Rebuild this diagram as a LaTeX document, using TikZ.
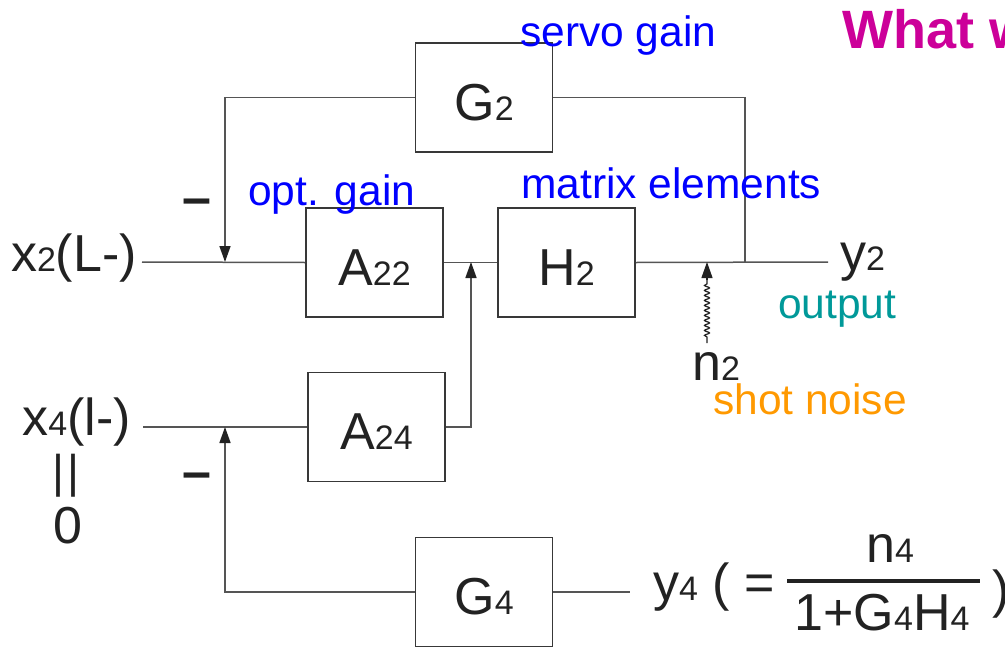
\documentclass[tikz,border=0pt]{standalone}
\usepackage{fontspec}
\setmainfont{Liberation Sans}
\usetikzlibrary{arrows.meta,decorations.pathmorphing}
\definecolor{ink}{HTML}{222222}
\definecolor{wirecol}{HTML}{555555}
\definecolor{notecol}{HTML}{0000FF}
\definecolor{outcol}{HTML}{009999}
\definecolor{noisecol}{HTML}{FF9900}
\definecolor{titlecol}{HTML}{CC0099}
\newcommand\ix[1]{{\fontsize{34}{34}\selectfont#1}}

\begin{document}
\begin{tikzpicture}[x=1pt,y=-1pt,font=\fontsize{52}{52}\selectfont, every node/.style={text=ink,inner sep=0pt}]
  \useasboundingbox (0,0) rectangle (1005,648);
  \tikzset{block/.style={draw=ink!90,line width=1.8pt,minimum width=137pt,minimum height=109pt,text height=45pt,text depth=0pt},
    wire/.style={draw=wirecol,line width=1.5pt},
    feed/.style={wire,-{Triangle[length=16pt,width=11pt,color=ink]}},
    note/.style={font=\fontsize{42.5}{42.5}\selectfont,text=notecol,anchor=base west}}

  % Blocks of the two loops.
  \node[block] (G2) at (484,97.5) {G\ix2};
  \node[block] (A22) at (374.5,262.5) {A\ix{22}};
  \node[block] (H2) at (566.5,262.5) {H\ix2};
  \node[block] (A24) at (376.5,427) {A\ix{24}};
  \node[block] (G4) at (484,592) {G\ix4};

  % Junctions and free ends of the wires.
  \coordinate (x2in) at (142,262);
  \coordinate (fb2) at (225,262);
  \coordinate (sum2) at (471,262);
  \coordinate (n2in) at (707,262);
  \coordinate (tap2) at (745,262);
  \coordinate (y2end) at (828,262);
  \coordinate (x4in) at (143,427);
  \coordinate (fb4) at (225,427);
  \coordinate (y4end) at (630,592);
  \coordinate (n2mid) at (707,280);
  \coordinate (n2tail) at (707,343);

  % Signal path of x2.
  \draw[wire] (x2in) -- (A22.west);
  \draw[wire] (A22.east) -- (H2.west);
  \draw[wire] (H2.east) -- (y2end);
  \draw[wire] (tap2) |- (G2.east);
  \draw[feed] (G2.west) -| (fb2);
  \draw[feed] (A24.east) -| (sum2);

  % Signal path of x4.
  \draw[wire] (x4in) -- (A24.west);
  \draw[feed] (G4.west) -| (fb4);
  \draw[wire] (G4.east) -- (y4end);

  % Shot noise enters after H2.
  \draw[ink,line width=1.2pt,decorate,decoration={snake,amplitude=2.5pt,segment length=5pt,pre length=6pt,post length=2pt}] (n2tail) -- (n2mid);
  \draw[ink,line width=1.2pt,-{Triangle[length=16pt,width=11pt]}] (n2mid) -- (n2in);

  % Signal labels.
  \node[anchor=base east] (x2) at (137,271) {x\ix2(L-)};
  \node[anchor=base east] (x4) at (131,435) {x\ix4(l-)};
  \node (eq4) at (66,476) {\fontsize{46}{46}\selectfont|\hspace{4pt}|};
  \node (zero4) at (68,526) {0};
  \node[font=\fontsize{52}{52}\selectfont\bfseries] (minus2) at (197,207) {–};
  \node[font=\fontsize{52}{52}\selectfont\bfseries] (minus4) at (197,481) {–};
  \node[anchor=base west] (y2) at (840,270) {y\ix2};
  \node[anchor=base west] (n2) at (692,380) {n\ix2};

  % Output of the x4 loop.
  \node[anchor=base west] (y4) at (653,600) {y\ix4 ( =};
  \node[anchor=base] (num4) at (890,562) {n\ix4};
  \node[anchor=base] (den4) at (882,630) {1+G\ix4H\ix4};
  \draw[ink,line width=3.5pt] (787,581) -- (980,581);
  \node[anchor=base west] (close4) at (992,607) {)};

  % Coloured notes.
  \node[note] (servo) at (520,46) {servo gain};
  \node[note] (optgain) at (248,205) {opt. gain};
  \node[note] (matrix) at (521,198) {matrix elements};
  \node[note,text=outcol] (output) at (778,318) {output};
  \node[note,text=noisecol] (shot) at (713,414) {shot noise};
  \node[anchor=base west,font=\fontsize{54}{54}\selectfont\bfseries,text=titlecol] (title) at (842,48) {What w};
\end{tikzpicture}
\end{document}
